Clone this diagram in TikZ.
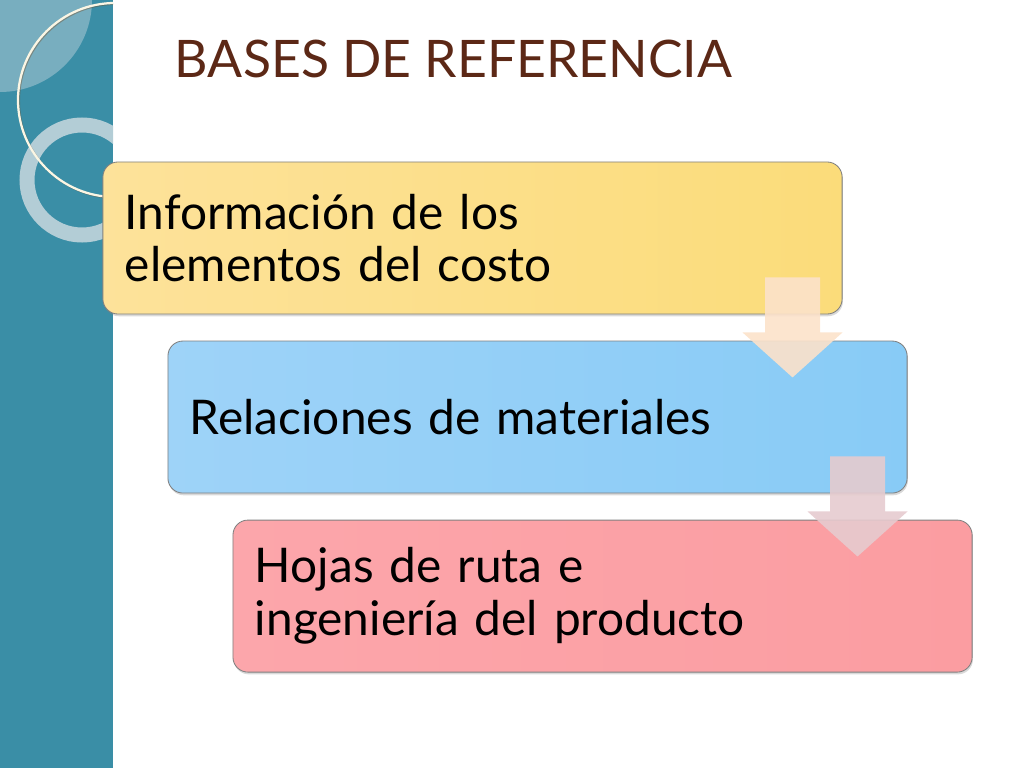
\documentclass[tikz,border=0pt]{standalone}
\usepackage{fontspec}
\setmainfont{Lato}
\usetikzlibrary{positioning,shadows}

\definecolor{stripteal}{HTML}{3A8EA6}
\definecolor{striplight}{HTML}{78AEBF}
\definecolor{ringgray}{HTML}{B3CDD6}
\definecolor{arccream}{HTML}{FBF6E4}
\definecolor{titlebrown}{HTML}{5C2816}
\definecolor{peach}{HTML}{FCE2CA}
\definecolor{rose}{HTML}{E6CBCF}

\begin{document}
\begin{tikzpicture}[
    x=0.025cm, y=-0.025cm,
    stage/.style = {rectangle, rounded corners=0.375cm, draw=black!50,
line width=0.6pt, minimum width=18.475cm, minimum height=3.8cm,
text width=17.375cm, inner xsep=0.55cm, align=left,
font=\fontsize{34}{37.5}\selectfont,
drop shadow={shadow xshift=0.6pt, shadow yshift=-1.6pt, opacity=0.3}},
node distance=4.475cm
]

  \useasboundingbox (0,0) rectangle (1024,768);

  % left band
  \fill[stripteal] (0,0) rectangle (113,768);
  \begin{scope}
    \clip (0,0) rectangle (113,768);
    \fill[striplight] (0,0) circle (92);
    \draw[ringgray, line width=0.375cm] (82,180) circle (55);
    \draw[black!40!brown, opacity=0.4, line width=1.4pt] (116,101) circle (97);
    \draw[arccream, line width=1.6pt] (115,100) circle (97);
  \end{scope}

  \node (title) [anchor=base west, text=titlebrown, font=\fontsize{36.8}{40}\selectfont]
    at (170,78) {BASES DE REFERENCIA};

  \node (info) [stage, left color={rgb,255:red,253;green,226;blue,154},
    middle color={rgb,255:red,252;green,235;blue,183},
    right color={rgb,255:red,251;green,220;blue,122}] at (472.5,238)
    {Información de los\\elementos del costo};
  \node (rel)  [stage, below of=info, xshift=1.625cm,
    left color={rgb,255:red,158;green,211;blue,248},
    middle color={rgb,255:red,191;green,226;blue,252},
    right color={rgb,255:red,136;green,203;blue,246}]
    {Relaciones de materiales};
  \node (hojas) [stage, below of=rel, xshift=1.625cm,
    left color={rgb,255:red,252;green,166;blue,171},
    middle color={rgb,255:red,253;green,201;blue,204},
    right color={rgb,255:red,251;green,157;blue,161}]
    {Hojas de ruta e\\ingeniería del producto};

  % block arrows between the stages
  \foreach \from/\col in {info/peach, rel/rose}
    \fill[\col, fill opacity=0.9] ([xshift=-1.25cm, yshift=0.925cm]\from.south east)
      ++(-27.5,0) -- ++(55,0) -- ++(0,55) -- ++(22.5,0) -- ++(-50,45)
      -- ++(-50,-45) -- ++(22.5,0) -- cycle;

\end{tikzpicture}
\end{document}
